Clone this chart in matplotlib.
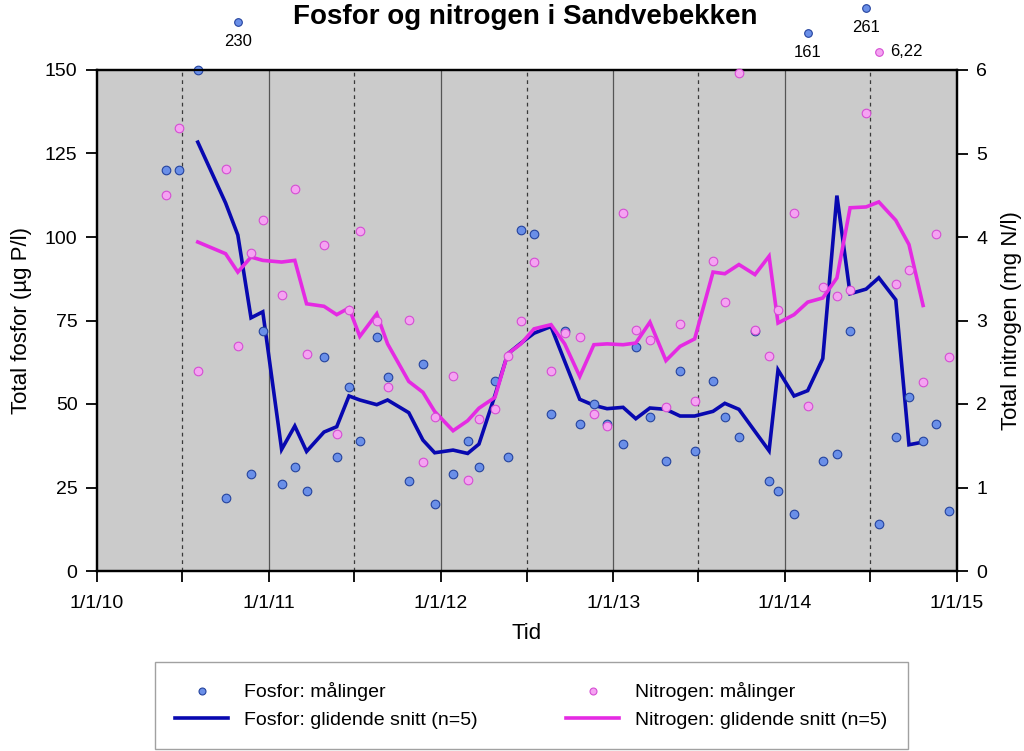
import matplotlib
matplotlib.use("Agg")
import matplotlib.pyplot as plt
import matplotlib.transforms as mtransforms
from matplotlib.lines import Line2D
import pandas as pd

plt.rcParams['font.family'] = ['Liberation Sans', 'DejaVu Sans']

# ---------------- data ----------------
dates = ["2010-05-27", "2010-06-24", "2010-08-03", "2010-10-01", "2010-10-27",
         "2010-11-24", "2010-12-19", "2011-01-28", "2011-02-25", "2011-03-22",
         "2011-04-28", "2011-05-25", "2011-06-20", "2011-07-13", "2011-08-18",
         "2011-09-10", "2011-10-25", "2011-11-24", "2011-12-19", "2012-01-27",
         "2012-02-27", "2012-03-22", "2012-04-25", "2012-05-22", "2012-06-19",
         "2012-07-17", "2012-08-22", "2012-09-20", "2012-10-22", "2012-11-21",
         "2012-12-19", "2013-01-22", "2013-02-18", "2013-03-20", "2013-04-23",
         "2013-05-23", "2013-06-23", "2013-08-01", "2013-08-26", "2013-09-25",
         "2013-10-29", "2013-11-28", "2013-12-17", "2014-01-20", "2014-02-18",
         "2014-03-22", "2014-04-21", "2014-05-19", "2014-06-22", "2014-07-19",
         "2014-08-24", "2014-09-21", "2014-10-21", "2014-11-17", "2014-12-15"]

fosfor = [120, 120, 150, 22, 230, 29, 72, 26, 31, 24,
          64, 34, 55, 39, 70, 58, 27, 62, 20, 29,
          39, 31, 57, 34, 102, 101, 47, 72, 44, 50,
          44, 38, 67, 46, 33, 60, 36, 57, 46, 40,
          72, 27, 24, 17, 161, 33, 35, 72, 261, 14,
          40, 52, 39, 44, 18]

nitrogen = [4.50, 5.30, 2.40, 4.81, 2.70, 3.81, 4.20, 3.30, 4.57, 2.60,
            3.91, 1.64, 3.13, 4.07, 3.00, 2.20, 3.01, 1.30, 1.84, 2.33,
            1.09, 1.82, 1.94, 2.57, 2.99, 3.70, 2.39, 2.85, 2.80, 1.88,
            1.74, 4.29, 2.89, 2.77, 1.97, 2.96, 2.03, 3.71, 3.22, 5.96,
            2.89, 2.57, 3.13, 4.29, 1.98, 3.40, 3.29, 3.37, 5.49, 6.22,
            3.44, 3.60, 2.26, 4.04, 2.56]

# moving averages (n=5), from the 3rd to the 3rd-last sample
fosfor_snitt = [128.4, 110.2, 100.6, 75.8, 77.6, 36.4, 43.4, 35.8, 41.6, 43.2,
                52.4, 51.2, 49.8, 51.2, 47.4, 39.2, 35.4, 36.2, 35.2, 38.0,
                52.6, 65.0, 68.2, 71.2, 73.2, 62.8, 51.4, 49.6, 48.6, 49.0,
                45.6, 48.8, 48.4, 46.4, 46.4, 47.8, 50.2, 48.4, 41.8, 36.0,
                60.2, 52.4, 54.0, 63.6, 112.4, 83.0, 84.4, 87.8, 81.2, 37.8,
                38.6]

nitrogen_snitt = [3.94, 3.80, 3.58, 3.76, 3.72, 3.70, 3.72, 3.20, 3.17, 3.07,
                  3.15, 2.81, 3.08, 2.72, 2.27, 2.14, 1.91, 1.68, 1.80, 1.95,
                  2.08, 2.60, 2.72, 2.90, 2.95, 2.72, 2.33, 2.71, 2.72, 2.71,
                  2.73, 2.98, 2.52, 2.69, 2.78, 3.58, 3.56, 3.67, 3.55, 3.77,
                  2.97, 3.07, 3.22, 3.27, 3.51, 4.35, 4.36, 4.42, 4.20, 3.91,
                  3.18]

# values beyond the axis range, drawn above the plot with their value
fosfor_outliers = {"2010-10-27": ("230", 1.096), "2014-02-18": ("161", 1.074),
                   "2014-06-22": ("261", 1.124)}
nitrogen_outliers = {"2014-07-19": ("6,22", 1.036)}

year_ticks = ["2010-01-01", "2011-01-01", "2012-01-01", "2013-01-01", "2014-01-01", "2015-01-01"]
half_ticks = ["2010-07-01", "2011-07-01", "2012-07-01", "2013-07-01", "2014-07-01"]
year_labels = ["1/1/10", "1/1/11", "1/1/12", "1/1/13", "1/1/14", "1/1/15"]
p_ticks = [0, 25, 50, 75, 100, 125, 150]
n_ticks = [0, 1, 2, 3, 4, 5, 6]

# ---------------- styles ----------------
P_FACE, P_EDGE, P_LINE = "#6a8fe8", "#24439e", "#0808b0"
N_FACE, N_EDGE, N_LINE = "#f5a3f2", "#d54dd3", "#e52ae3"
BG = "#cbcbcb"

x = pd.to_datetime(dates)
xs = x[2:-2]

fig = plt.figure(figsize=(10.24, 7.51), dpi=100)
ax = fig.add_axes([97/1024, 1-571/751, (957-97)/1024, (571-70)/751])
ax2 = ax.twinx()
ax.set_facecolor(BG)
ax.set_zorder(ax2.get_zorder() - 1)
ax2.patch.set_visible(False)

# vertical reference lines
for d in year_ticks[1:-1]:
    ax.axvline(pd.Timestamp(d), color="#555555", lw=0.9, zorder=1)
for d in half_ticks:
    ax.axvline(pd.Timestamp(d), color="#3a3a3a", lw=0.9, ls=(0, (3, 3)), zorder=1)

in_p = [i for i, v in enumerate(fosfor) if v <= 150]
in_n = [i for i, v in enumerate(nitrogen) if v <= 6]

ax.plot(x[in_p], [fosfor[i] for i in in_p], ls="none", marker="o", ms=6.2,
        mfc=P_FACE, mec=P_EDGE, mew=0.8, clip_on=False, zorder=5)
ax2.plot(x[in_n], [nitrogen[i] for i in in_n], ls="none", marker="o", ms=6.2,
         mfc=N_FACE, mec=N_EDGE, mew=0.8, clip_on=False, zorder=5)
ax.plot(xs, fosfor_snitt, color=P_LINE, lw=2.6, zorder=4, solid_joinstyle="miter")
ax2.plot(xs, nitrogen_snitt, color=N_LINE, lw=2.6, zorder=4, solid_joinstyle="miter")

# outliers above the plot area
trans = mtransforms.blended_transform_factory(ax.transData, ax.transAxes)
for d, (lab, yy) in fosfor_outliers.items():
    t = pd.Timestamp(d)
    ax.plot([t], [yy], transform=trans, marker="o", ms=5.5, mfc=P_FACE, mec=P_EDGE,
            mew=0.8, clip_on=False, zorder=6)
    ax.text(t, yy - 0.024, lab, transform=trans, ha="center", va="top",
            fontsize=12, clip_on=False)
for d, (lab, yy) in nitrogen_outliers.items():
    t = pd.Timestamp(d)
    ax.plot([t], [yy], transform=trans, marker="o", ms=5.5, mfc=N_FACE, mec=N_EDGE,
            mew=0.8, clip_on=False, zorder=6)
    ax.text(t + pd.Timedelta(days=25), yy, lab, transform=trans, ha="left",
            va="center", fontsize=12, clip_on=False)

# axes
ax.set_xlim(pd.Timestamp(year_ticks[0]), pd.Timestamp(year_ticks[-1]))
ax.set_ylim(0, 150)
ax2.set_ylim(0, 6)
all_ticks = sorted([pd.Timestamp(d) for d in year_ticks + half_ticks])
ax.set_xticks(all_ticks)
lab_map = {pd.Timestamp(d): l for d, l in zip(year_ticks, year_labels)}
ax.set_xticklabels([lab_map.get(t, "") for t in all_ticks])
ax.set_yticks(p_ticks)
ax2.set_yticks(n_ticks)

for a in (ax, ax2):
    a.tick_params(direction="out", length=8, width=1.3, labelsize=14, pad=6)
    for s in a.spines.values():
        s.set_linewidth(1.6)
ax.tick_params(axis="x", pad=9)

ax.set_xlabel("Tid", fontsize=16, labelpad=8)
ax.set_ylabel("Total fosfor (µg P/l)", fontsize=16, labelpad=9)
ax2.set_ylabel("Total nitrogen (mg N/l)", fontsize=16, labelpad=10)

fig.text(0.513, 0.977, "Fosfor og nitrogen i Sandvebekken", ha="center", va="center",
         fontsize=20, fontweight="bold")

# legend
handles = [
    Line2D([], [], ls="none", marker="o", ms=5, mfc=P_FACE, mec=P_EDGE, mew=0.8),
    Line2D([], [], color=P_LINE, lw=2.6),
    Line2D([], [], ls="none", marker="o", ms=5, mfc=N_FACE, mec=N_EDGE, mew=0.8),
    Line2D([], [], color=N_LINE, lw=2.6),
]
labels = ["Fosfor: målinger", "Fosfor: glidende snitt (n=5)",
          "Nitrogen: målinger", "Nitrogen: glidende snitt (n=5)"]
leg = fig.legend(handles, labels, ncol=2, loc="upper left",
                 bbox_to_anchor=(155/1024, 1-748/751, (908-155)/1024, (748-662)/751),
                 mode="expand", fontsize=14, frameon=True, fancybox=False,
                 edgecolor="#8a8a8a", handlelength=2.7, handletextpad=0.85,
                 borderpad=1.05, labelspacing=0.5, columnspacing=3.0,
                 borderaxespad=0)
leg.get_frame().set_linewidth(1.0)

fig.savefig("out.png", dpi=100)
